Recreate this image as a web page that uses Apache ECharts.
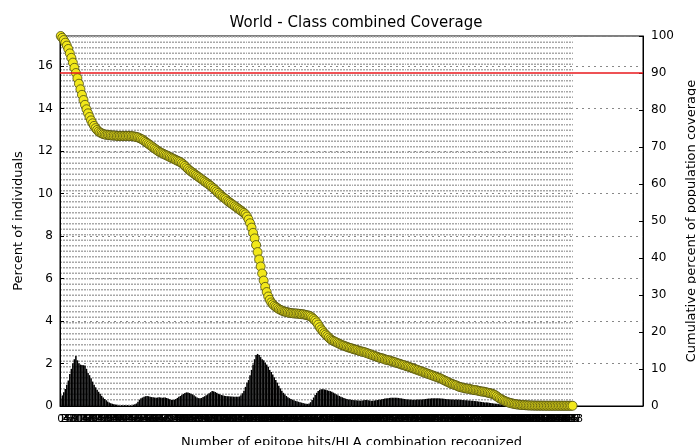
<!DOCTYPE html>
<html>
<head>
<meta charset="utf-8">
<script src="https://cdn.jsdelivr.net/npm/echarts@6/dist/echarts.min.js"></script>
<style>
  html, body { margin: 0; padding: 0; background: #fff; }
  #chart { width: 696px; height: 445px; }
</style>
</head>
<body>
<div id="chart"></div>
<script>
// Number of epitope hits per HLA combination (0 .. 338)
const hitCounts = [];
for (let i = 0; i <= 338; i++) hitCounts.push(String(i));
// empty slots that pad the axis to the right of the last count
const paddingSlots = 46;

// Percent of individuals at each hit count
const percentIndividuals = [
  0.35, 0.5, 0.65, 0.8, 1.0, 1.2, 1.5, 1.75, 2.0, 2.2,
  2.35, 2.15, 2.0, 1.95, 1.93, 1.92, 1.9, 1.75, 1.55, 1.45,
  1.3, 1.15, 1.0, 0.88, 0.77, 0.67, 0.58, 0.48, 0.4, 0.33,
  0.27, 0.21, 0.16, 0.13, 0.1, 0.08, 0.07, 0.06, 0.05, 0.04,
  0.03, 0.03, 0.03, 0.03, 0.03, 0.04, 0.04, 0.05, 0.06, 0.08,
  0.12, 0.2, 0.3, 0.36, 0.4, 0.43, 0.46, 0.47, 0.46, 0.44,
  0.42, 0.41, 0.4, 0.39, 0.4, 0.41, 0.4, 0.39, 0.4, 0.4,
  0.38, 0.35, 0.32, 0.29, 0.28, 0.3, 0.33, 0.38, 0.43, 0.47,
  0.52, 0.57, 0.61, 0.64, 0.63, 0.61, 0.58, 0.55, 0.5, 0.45,
  0.4, 0.37, 0.36, 0.38, 0.42, 0.46, 0.5, 0.55, 0.6, 0.65,
  0.7, 0.69, 0.66, 0.62, 0.58, 0.55, 0.52, 0.5, 0.48, 0.47,
  0.46, 0.46, 0.45, 0.45, 0.44, 0.44, 0.44, 0.44, 0.45, 0.5,
  0.6, 0.72, 0.9, 1.1, 1.22, 1.45, 1.7, 1.95, 2.2, 2.4,
  2.45, 2.4, 2.3, 2.2, 2.15, 2.05, 1.95, 1.85, 1.7, 1.6,
  1.48, 1.35, 1.22, 1.1, 0.95, 0.83, 0.72, 0.62, 0.54, 0.47,
  0.41, 0.37, 0.33, 0.3, 0.27, 0.24, 0.22, 0.2, 0.18, 0.16,
  0.14, 0.12, 0.1, 0.1, 0.12, 0.18, 0.28, 0.4, 0.52, 0.62,
  0.7, 0.76, 0.79, 0.79, 0.78, 0.76, 0.74, 0.72, 0.7, 0.67,
  0.63, 0.59, 0.55, 0.51, 0.47, 0.44, 0.41, 0.38, 0.35, 0.33,
  0.31, 0.3, 0.29, 0.28, 0.27, 0.27, 0.26, 0.26, 0.25, 0.26,
  0.27, 0.28, 0.28, 0.27, 0.26, 0.25, 0.25, 0.26, 0.27, 0.28,
  0.29, 0.3, 0.32, 0.33, 0.35, 0.36, 0.37, 0.38, 0.39, 0.39,
  0.39, 0.39, 0.39, 0.38, 0.37, 0.36, 0.34, 0.33, 0.32, 0.31,
  0.3, 0.3, 0.29, 0.29, 0.29, 0.3, 0.3, 0.3, 0.31, 0.31,
  0.32, 0.33, 0.34, 0.35, 0.35, 0.36, 0.36, 0.36, 0.36, 0.36,
  0.36, 0.35, 0.35, 0.34, 0.33, 0.32, 0.32, 0.31, 0.31, 0.3,
  0.3, 0.3, 0.3, 0.3, 0.29, 0.28, 0.28, 0.27, 0.27, 0.26,
  0.26, 0.25, 0.25, 0.24, 0.23, 0.22, 0.21, 0.2, 0.19, 0.18,
  0.17, 0.17, 0.16, 0.15, 0.14, 0.13, 0.12, 0.11, 0.1, 0.09,
  0.08, 0.07, 0.06, 0.05, 0.05, 0.04, 0.03, 0.03, 0.02, 0.02,
  0.01, 0.01, 0.01, 0.01, 0.01, 0.01, 0.01, 0.01, 0.01, 0.01,
  0.01, 0.01, 0.01, 0.01, 0.01, 0.01, 0.01, 0.01, 0.01, 0.01,
  0.01, 0.01, 0.01, 0.01, 0.01, 0.01, 0.01, 0.01, 0.01, 0.01,
  0.01, 0.01, 0.01, 0.01, 0.01, 0.01, 0.01, 0.01, 0.01
];

// Cumulative percent of population coverage
const cumulativeCoverage = [
  100, 99.5, 98.9, 98.2, 97.4, 96.5, 95.3, 94.1, 92.8, 91.4,
  90, 88.6, 87.1, 85.6, 84.1, 82.7, 81.4, 80.2, 79.1, 78.1,
  77.2, 76.4, 75.7, 75.1, 74.6, 74.2, 73.9, 73.7, 73.5, 73.4,
  73.3, 73.3, 73.2, 73.2, 73.1, 73.1, 73.1, 73.0, 73.0, 73.0,
  73.0, 73.0, 73.0, 73.0, 73.0, 73.0, 73.0, 72.9, 72.9, 72.8,
  72.7, 72.6, 72.4, 72.2, 72.0, 71.7, 71.4, 71.1, 70.8, 70.5,
  70.2, 69.9, 69.6, 69.3, 69.0, 68.7, 68.5, 68.3, 68.1, 67.9,
  67.7, 67.5, 67.3, 67.1, 66.9, 66.7, 66.5, 66.3, 66.1, 65.9,
  65.6, 65.3, 64.9, 64.5, 64.1, 63.7, 63.4, 63.1, 62.8, 62.5,
  62.2, 61.9, 61.6, 61.3, 61.0, 60.7, 60.4, 60.1, 59.8, 59.5,
  59.1, 58.8, 58.4, 58.0, 57.6, 57.2, 56.9, 56.5, 56.2, 55.9,
  55.5, 55.2, 54.9, 54.6, 54.3, 54.0, 53.7, 53.4, 53.1, 52.8,
  52.5, 52.2, 51.8, 51.2, 50.4, 49.4, 48.2, 46.8, 45.3, 43.5,
  41.6, 39.6, 37.7, 35.8, 33.9, 32.2, 30.8, 29.6, 28.7, 28.0,
  27.5, 27.1, 26.8, 26.5, 26.2, 26.0, 25.8, 25.6, 25.5, 25.4,
  25.3, 25.2, 25.1, 25.1, 25.0, 25.0, 25.0, 24.9, 24.9, 24.8,
  24.8, 24.7, 24.6, 24.5, 24.4, 24.2, 23.9, 23.5, 23.1, 22.6,
  22.0, 21.3, 20.7, 20.2, 19.7, 19.3, 18.9, 18.5, 18.1, 17.8,
  17.6, 17.4, 17.2, 17.0, 16.8, 16.6, 16.4, 16.3, 16.1, 16.0,
  15.8, 15.7, 15.6, 15.4, 15.3, 15.2, 15.1, 14.9, 14.8, 14.7,
  14.6, 14.5, 14.3, 14.2, 14.0, 13.9, 13.7, 13.6, 13.4, 13.3,
  13.1, 13.0, 12.9, 12.8, 12.6, 12.5, 12.4, 12.3, 12.2, 12.0,
  11.9, 11.8, 11.6, 11.5, 11.4, 11.2, 11.1, 11.0, 10.8, 10.7,
  10.6, 10.4, 10.3, 10.1, 10.0, 9.8, 9.7, 9.5, 9.4, 9.2,
  9.1, 8.9, 8.8, 8.6, 8.5, 8.3, 8.2, 8.0, 7.9, 7.7,
  7.6, 7.4, 7.2, 7.0, 6.8, 6.6, 6.4, 6.2, 6.0, 5.9,
  5.7, 5.6, 5.4, 5.2, 5.1, 5.0, 4.9, 4.8, 4.7, 4.7,
  4.6, 4.5, 4.4, 4.3, 4.3, 4.2, 4.1, 4.0, 3.9, 3.9,
  3.8, 3.7, 3.6, 3.5, 3.4, 3.3, 3.1, 2.9, 2.6, 2.3,
  2.0, 1.8, 1.6, 1.4, 1.2, 1.05, 0.9, 0.8, 0.7, 0.6,
  0.5, 0.45, 0.4, 0.35, 0.3, 0.27, 0.24, 0.21, 0.18, 0.16,
  0.14, 0.13, 0.12, 0.11, 0.1, 0.1, 0.1, 0.09, 0.09, 0.09,
  0.08, 0.08, 0.08, 0.08, 0.08, 0.08, 0.08, 0.08, 0.08, 0.08,
  0.07, 0.07, 0.07, 0.07, 0.07, 0.07, 0.07, 0.07, 0.07
];

// 90% coverage reference level
const coverageTarget = 90;

// Axis ticks
const leftTicks = { min: 0, max: 17.41, interval: 2 };
const rightTicks = { min: 0, max: 100, interval: 10 };

const categories = hitCounts.concat(new Array(paddingSlots).fill(''));
const lastHit = hitCounts.length - 1;
const FONT = 'DejaVu Sans';

const chart = echarts.init(document.getElementById('chart'), null, { renderer: 'canvas' });

chart.setOption({
  animation: false,
  backgroundColor: '#fff',
  textStyle: { fontFamily: FONT },
  title: {
    text: 'World - Class combined Coverage',
    left: 351, textAlign: 'center', top: 11,
    textStyle: { fontFamily: FONT, fontSize: 15, fontWeight: 'normal', color: '#000' }
  },
  grid: {
    left: 60, right: 53, top: 36, bottom: 39,
    outerBoundsMode: 'none',
    containLabel: false,
    show: true, borderColor: '#000', borderWidth: 1, backgroundColor: 'transparent'
  },
  xAxis: {
    type: 'category',
    data: categories,
    boundaryGap: true,
    name: 'Number of epitope hits/HLA combination recognized',
    nameLocation: 'middle',
    nameGap: 30,
    nameTextStyle: { fontFamily: FONT, fontSize: 13, color: '#000' },
    axisLine: { show: true, lineStyle: { color: '#000', width: 1 } },
    axisTick: { show: false },
    axisLabel: {
      interval: 0, hideOverlap: false, margin: 8,
      fontFamily: FONT, fontSize: 11, color: '#000'
    },
    splitLine: {
      show: true,
      interval: (idx) => idx <= lastHit,
      lineStyle: { color: '#a8a8a8', width: 1, type: [1.5, 4] }
    }
  },
  yAxis: [
    {
      type: 'value',
      position: 'left',
      min: leftTicks.min, max: leftTicks.max, interval: leftTicks.interval,
      name: 'Percent of individuals',
      nameLocation: 'middle',
      nameGap: 35,
      nameTextStyle: { fontFamily: FONT, fontSize: 13, color: '#000' },
      axisLine: { show: true, lineStyle: { color: '#000' } },
      axisTick: { show: true, inside: true, length: 4, lineStyle: { color: '#000' } },
      axisLabel: { fontFamily: FONT, fontSize: 12, color: '#000', margin: 7, showMaxLabel: false },
      splitLine: { show: true, lineStyle: { color: '#888', width: 1, type: [2, 4] } }
    },
    {
      type: 'value',
      position: 'right',
      min: rightTicks.min, max: rightTicks.max, interval: rightTicks.interval,
      name: 'Cumulative percent of population coverage',
      nameLocation: 'middle',
      nameGap: 38,
      nameRotate: 90,
      nameTextStyle: { fontFamily: FONT, fontSize: 13, color: '#000' },
      axisLine: { show: true, lineStyle: { color: '#000' } },
      axisTick: { show: true, inside: true, length: 4, lineStyle: { color: '#000' } },
      axisLabel: { fontFamily: FONT, fontSize: 12, color: '#000', margin: 8 },
      splitLine: { show: false }
    }
  ],
  series: [
    {
      name: 'Percent of individuals',
      type: 'bar',
      yAxisIndex: 0,
      data: percentIndividuals,
      barCategoryGap: '0%',
      itemStyle: { color: '#0a1530', borderColor: '#000', borderWidth: 1.2 },
      z: 2
    },
    {
      name: 'target',
      type: 'line',
      yAxisIndex: 1,
      data: [],
      z: 3,
      markLine: {
        silent: true,
        symbol: 'none',
        label: { show: false },
        lineStyle: { color: '#e8191c', width: 1.5, type: 'solid' },
        data: [{ yAxis: coverageTarget }]
      }
    },
    {
      name: 'Cumulative coverage',
      type: 'line',
      yAxisIndex: 1,
      data: cumulativeCoverage,
      showAllSymbol: true,
      symbol: 'circle',
      symbolSize: 9,
      itemStyle: { color: '#f2e81a', borderColor: '#4a4a10', borderWidth: 0.8 },
      lineStyle: { color: '#333', width: 1 },
      z: 4
    }
  ]
});
</script>
</body>
</html>
